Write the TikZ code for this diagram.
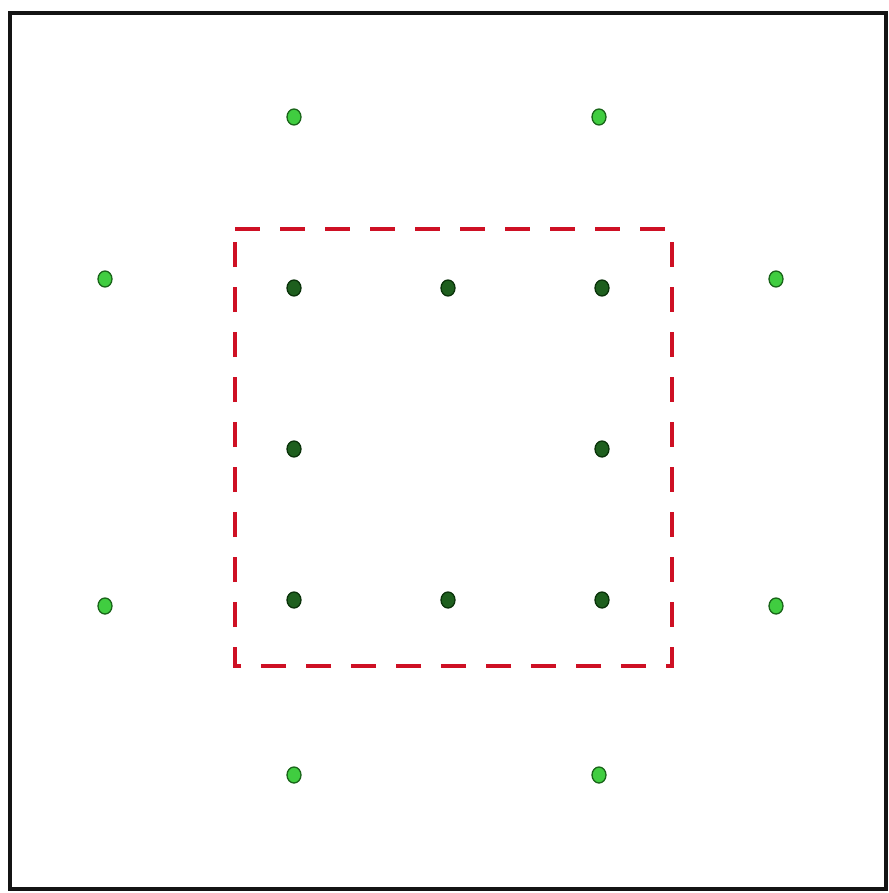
\documentclass[tikz,border=0pt]{standalone}
\usetikzlibrary{shapes.geometric}
\definecolor{frame}{RGB}{20,20,20}
\definecolor{redline}{RGB}{206,16,36}
\definecolor{lightfill}{RGB}{64,205,64}
\definecolor{lightedge}{RGB}{25,100,25}
\definecolor{darkfill}{RGB}{30,95,30}
\definecolor{darkedge}{RGB}{10,50,10}
\tikzset{
  lightdot/.style={ellipse, draw=lightedge, fill=lightfill, line width=1.3pt, minimum width=14pt, minimum height=16pt, inner sep=0pt},
  darkdot/.style={ellipse, draw=darkedge, fill=darkfill, line width=1.3pt, minimum width=14pt, minimum height=16pt, inner sep=0pt},
  outerframe/.style={draw=frame, line width=4pt},
  zone/.style={draw=redline, line width=4pt, dash pattern=on 25pt off 20pt}
}
\begin{document}
\begin{tikzpicture}[x=1pt,y=-1pt]
\useasboundingbox (0,0) rectangle (888,893);
\draw[outerframe] (10,13) rectangle (886,889);
\draw[zone] (235,229) -- (672,229) -- (672,666) -- (235,666) -- cycle;
% outer light dots
\node[lightdot] (l1) at (294,117) {};
\node[lightdot] (l2) at (599,117) {};
\node[lightdot] (l3) at (105,279) {};
\node[lightdot] (l4) at (776,279) {};
\node[lightdot] (l5) at (105,606) {};
\node[lightdot] (l6) at (776,606) {};
\node[lightdot] (l7) at (294,775) {};
\node[lightdot] (l8) at (599,775) {};
% inner dark dots
\node[darkdot] (d1) at (294,288) {};
\node[darkdot] (d2) at (448,288) {};
\node[darkdot] (d3) at (602,288) {};
\node[darkdot] (d4) at (294,449) {};
\node[darkdot] (d5) at (602,449) {};
\node[darkdot] (d6) at (294,600) {};
\node[darkdot] (d7) at (448,600) {};
\node[darkdot] (d8) at (602,600) {};
\end{tikzpicture}
\end{document}
